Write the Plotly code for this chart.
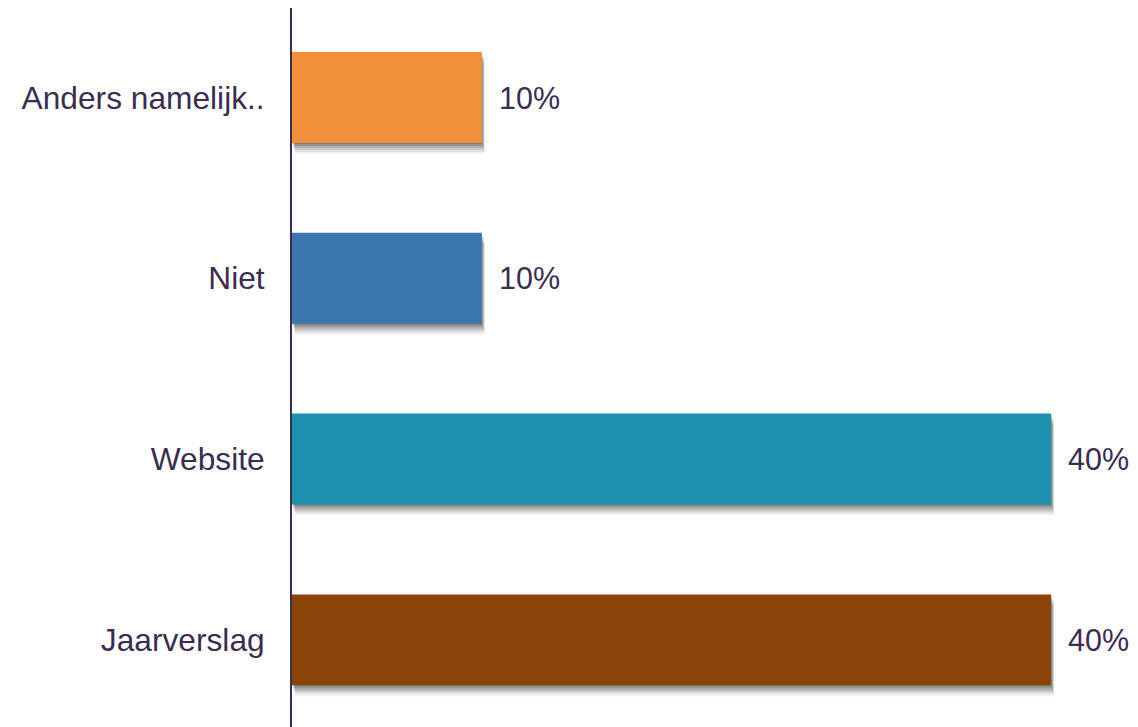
import plotly.graph_objects as go

categories = ["Jaarverslag", "Website", "Niet", "Anders namelijk.."]
values = [40, 40, 10, 10]
labels = ["40%", "40%", "10%", "10%"]
colors = ["#8B4309", "#1F8FAE", "#3B76AF", "#F18F3B"]

TEXT = "#3B2D4F"
FONT = "Liberation Sans, Arial, sans-serif"

W, H = 1130, 719
ML, MT, MB, MR = 284, 0, 0, 0
plot_w = W - ML - MR
plot_h = H - MT - MB
px_per_x = 18.98     # px per percent
px_per_cat = 180.8   # px per category
x_range = [0, plot_w / px_per_x]
y_top = 3.495
y_range = [y_top - plot_h / px_per_cat, y_top]

# shadow layers: (dx px, dy px, alpha)
shadows = [(0, 1, 0.15), (1, 3, 0.15), (2, 5, 0.12), (2, 7, 0.10),
           (3, 9, 0.07), (3, 11, 0.05)]

fig = go.Figure()
n = len(shadows)
for i, (dx, dy, a) in enumerate(shadows):
    k = "" if i == 0 else str(i + 1)
    fig.add_trace(go.Bar(
        y=categories, x=values, orientation="h", width=0.503,
        marker=dict(color=f"rgba(0,0,0,{a})", line=dict(width=0)),
        xaxis="x" + k, yaxis="y" + k, hoverinfo="skip", showlegend=False,
    ))
    xr = [x_range[0] - dx / px_per_x, x_range[1] - dx / px_per_x]
    yr = [y_range[0] + dy / px_per_cat, y_range[1] + dy / px_per_cat]
    xa = dict(range=xr, visible=False, domain=[0, 1])
    ya = dict(range=yr, visible=False, domain=[0, 1], type="category",
              categoryorder="array", categoryarray=categories)
    if i > 0:
        xa["overlaying"] = "x"
        ya["overlaying"] = "y"
        xa["anchor"] = "y" + k
        ya["anchor"] = "x" + k
    fig.layout["xaxis" + k] = xa
    fig.layout["yaxis" + k] = ya

k = str(n + 1)
fig.add_trace(go.Bar(
    y=categories, x=values, orientation="h", width=0.503,
    marker=dict(color=colors, line=dict(width=0)),
    xaxis="x" + k, yaxis="y" + k, showlegend=False,
))
fig.layout["xaxis" + k] = dict(range=x_range, visible=False, overlaying="x",
                                anchor="y" + k, domain=[0, 1])
fig.layout["yaxis" + k] = dict(
    range=y_range, overlaying="y", anchor="x" + k, domain=[0, 1],
    type="category", categoryorder="array", categoryarray=categories,
    showline=True, linecolor=TEXT, linewidth=2, showgrid=False, zeroline=False,
    ticks="outside", ticklen=19, tickcolor="rgba(0,0,0,0)",
    tickfont=dict(family=FONT, size=31.7, color=TEXT),
)

for c, v, t in zip(categories, values, labels):
    fig.add_annotation(x=v, y=c, xref="x" + k, yref="y" + k, text=t,
                       showarrow=False, xanchor="left", xshift=15,
                       font=dict(family=FONT, size=30.5, color=TEXT))

fig.update_layout(
    width=W, height=H,
    margin=dict(l=ML, r=MR, t=MT, b=MB, pad=0),
    paper_bgcolor="white", plot_bgcolor="white",
    bargap=0.5, showlegend=False,
)

fig.write_html("out.html", config={"displayModeBar": False})
